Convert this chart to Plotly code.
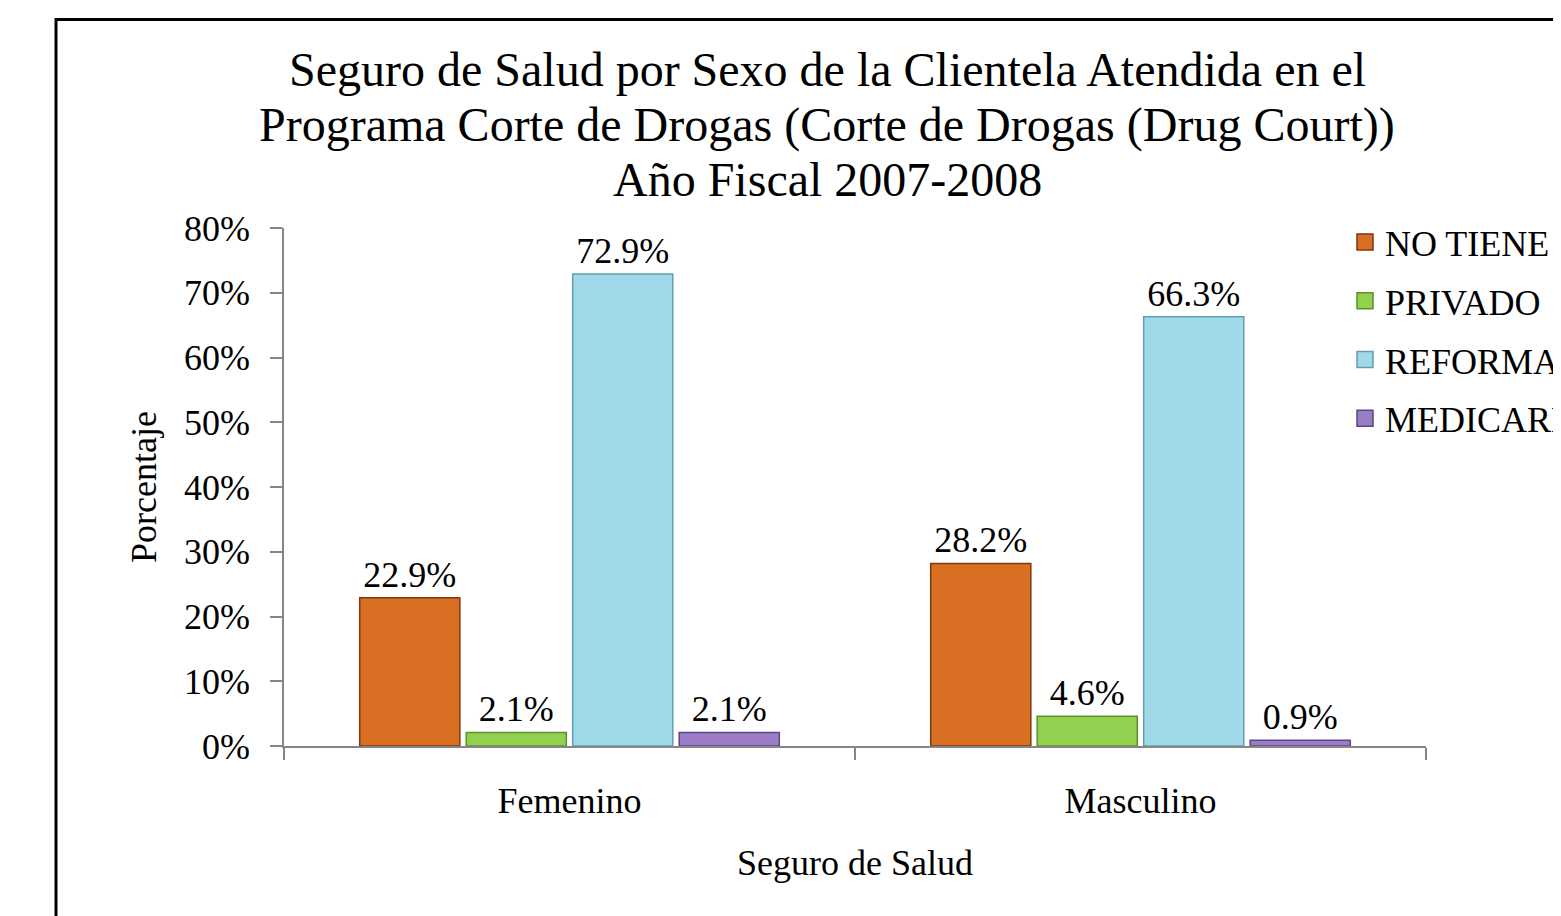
import plotly.graph_objects as go

categories = ["Femenino", "Masculino"]
series_names = ["NO TIENE", "PRIVADO", "REFORMA", "MEDICARE"]
no_tiene = [0.229, 0.282]
privado = [0.021, 0.046]
reforma = [0.729, 0.663]
medicare = [0.021, 0.009]
y_ticks = [0, 0.1, 0.2, 0.3, 0.4, 0.5, 0.6, 0.7, 0.8]

title_lines = [
    "Seguro de Salud por Sexo de la Clientela Atendida en el",
    "Programa Corte de Drogas (Corte de Drogas (Drug Court))",
    "Año Fiscal 2007-2008",
]

fills = ["#D86F22", "#92D050", "#A0DAEA", "#9B7DC4"]
edges = ["#7A3A0E", "#5E8F2C", "#5F9FB2", "#5E4585"]

FONT = "Liberation Serif"
OFF = 8  # page body margin
W, H = 1561, 916
L = 284 - OFF
T = 228 - OFF
PR = 1426 - OFF
PB = 746 - OFF
R, B = W - PR, H - PB
PW, PH = PR - L, PB - T


def px_x(p):
    return (p - OFF - L) / PW


def px_y(p):
    return (PB - (p - OFF)) / PH


fig = go.Figure()
for name, vals, fc, ec in zip(series_names, [no_tiene, privado, reforma, medicare], fills, edges):
    fig.add_trace(go.Bar(
        name=name, x=categories, y=vals,
        marker=dict(color=fc, line=dict(color=ec, width=1.5)),
        text=[f"{v*100:.1f}%" for v in vals],
        textposition="outside",
        textfont=dict(family=FONT, size=36, color="black"),
        cliponaxis=False,
        showlegend=False,
    ))
# legend entries with larger square swatches
for name, fc, ec in zip(series_names, fills, edges):
    fig.add_trace(go.Scatter(
        name=name, x=[None], y=[None], mode="markers",
        marker=dict(symbol="square", size=16, color=fc, line=dict(color=ec, width=1.5)),
        legendgroup=name, showlegend=True, hoverinfo="skip",
    ))

annotations = []
for line, yc in zip(title_lines, [70, 125, 180]):
    annotations.append(dict(
        text=line, xref="paper", yref="paper", x=px_x(827), y=px_y(yc),
        xanchor="center", yanchor="middle", showarrow=False,
        font=dict(family=FONT, size=48, color="black"),
    ))

fig.update_layout(
    width=W, height=H,
    margin=dict(l=L, r=R, t=T, b=B, autoexpand=False),
    paper_bgcolor="white", plot_bgcolor="white",
    barmode="group", bargap=0.254, bargroupgap=0.06,
    font=dict(family=FONT, size=36, color="black"),
    showlegend=True,
    legend=dict(
        x=px_x(1345), y=px_y(212), xanchor="left", yanchor="top",
        font=dict(family=FONT, size=36, color="black"),
        traceorder="grouped", tracegroupgap=9,
        bgcolor="rgba(0,0,0,0)",
    ),
    annotations=annotations,
    shapes=[dict(
        type="rect", xref="paper", yref="paper",
        x0=px_x(56), x1=px_x(1700), y0=px_y(19.5), y1=px_y(1000),
        line=dict(color="black", width=3), fillcolor="rgba(0,0,0,0)",
        layer="below",
    )],
)

fig.update_yaxes(
    range=[0, 0.8], tickvals=y_ticks, tickformat=".0%",
    showgrid=False, zeroline=False,
    showline=True, linecolor="#868686", linewidth=1.5,
    ticks="outside", ticklen=12, tickcolor="#868686", tickwidth=1.5,
    ticklabelstandoff=13,
    tickfont=dict(family=FONT, size=36, color="black"),
    title=dict(text="Porcentaje", font=dict(family=FONT, size=36, color="black"), standoff=16),
)
fig.update_xaxes(
    showgrid=False, showline=True, linecolor="#868686", linewidth=1.5,
    ticks="outside", ticklen=12, tickcolor="#868686", tickwidth=1.5,
    tickson="boundaries",
    ticklabelstandoff=22,
    tickfont=dict(family=FONT, size=36, color="black"),
    title=dict(text="Seguro de Salud", font=dict(family=FONT, size=36, color="black"), standoff=30),
)

fig.write_html("out.html")
